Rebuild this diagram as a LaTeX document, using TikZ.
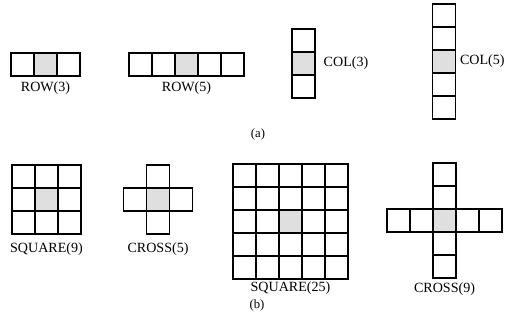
\documentclass[tikz,border=0pt]{standalone}
\usepackage{fontspec}
\setmainfont{Liberation Serif}
\usetikzlibrary{positioning}
\tikzset{
  cell/.style={
    draw=black, line width=1.4pt, fill=white, outer sep=0pt,
    minimum size=0.575cm, inner sep=0pt
  },
  centre/.style={cell, fill=gray!25},
  caption/.style={font=\normalsize, inner sep=1pt},
  part/.style={font=\small, inner sep=1pt}
}

\begin{document}
\begin{tikzpicture}[x=0.025cm,y=-0.025cm,node distance=2pt]
    \useasboundingbox (0,0) rectangle (509,329);
    % (a) rows and columns
    \foreach \i in {1,2,3}
      \node[cell] (rowA\i) at ({22.5+23*(\i-1)},64.5) {};
    \node[centre] at (rowA2) {};
    \foreach \i in {1,...,5}
      \node[cell] (rowB\i) at ({140.5+23*(\i-1)},64.5) {};
    \node[centre] at (rowB3) {};
    \foreach \i in {1,2,3}
      \node[cell] (colA\i) at (303.5,{40.5+23*(\i-1)}) {};
    \node[centre] at (colA2) {};
    \foreach \i in {1,...,5}
      \node[cell] (colB\i) at (444,{15.5+23*(\i-1)}) {};
    \node[centre] at (colB3) {};
    \node[caption,below=3pt of rowA2] (rowAlab) {ROW(3)};
    \node[caption,below=3pt of rowB3] (rowBlab) {ROW(5)};
    \node[caption,right=5pt of colA2] (colAlab) {COL(3)};
    \node[caption,right=2pt of colB3] (colBlab) {COL(5)};
    \node[part] (parta) at (258,134) {(a)};
    % (b) squares and crosses
    \foreach \i in {1,2,3}
      \foreach \j in {1,2,3}
        \node[cell] (sqA\i\j) at ({23.5+23*(\i-1)},{176.5+23*(\j-1)}) {};
    \node[centre] at (sqA22) {};
    \foreach \j in {1,2,3}
      \node[cell] (crA\j) at (158,{176.5+23*(\j-1)}) {};
    \node[cell,left=0pt of crA2] (crAw) {};
    \node[cell,right=0pt of crA2] (crAe) {};
    \node[centre] at (crA2) {};
    \foreach \i in {1,...,5}
      \foreach \j in {1,...,5}
        \node[cell] (sqB\i\j) at ({244.5+23*(\i-1)},{175.5+23*(\j-1)}) {};
    \node[centre] at (sqB33) {};
    \foreach \i in {1,...,5}
      \node[cell] (crBh\i) at ({398.5+23*(\i-1)},220.5) {};
    \foreach \j in {1,2,4,5}
      \node[cell] (crBv\j) at (444.5,{174.5+23*(\j-1)}) {};
    \node[centre] at (crBh3) {};
    \node[caption,below=5pt of sqA23] (sqAlab) {SQUARE(9)};
    \node[caption,below=5pt of crA3] (crAlab) {CROSS(5)};
    \node[caption,below=1pt of sqB35] (sqBlab) {SQUARE(25)};
    \node[caption,below=2pt of crBv5] (crBlab) {CROSS(9)};
    \node[part] (partb) at (257,305) {(b)};
\end{tikzpicture}
\end{document}
